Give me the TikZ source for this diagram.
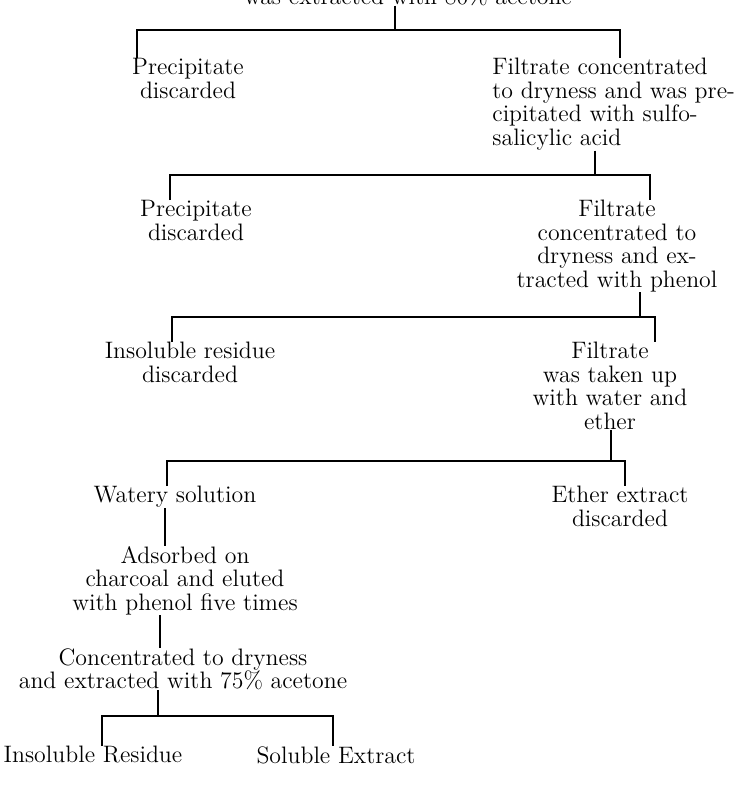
\documentclass[tikz,border=0pt]{standalone}
\usepackage{tikz}

\begin{document}
\begin{tikzpicture}[x=0.5pt,y=-0.5pt,
  txt/.style={inner sep=0pt,align=center,font=\fontsize{11.9}{11.75}\selectfont},
  ltxt/.style={txt,align=left},
  br/.style={line width=0.7pt}]
\useasboundingbox (0,0) rectangle (741,804);
\node[txt,anchor=base] (top) at (408,4) {was extracted with 80\% acetone};
\node[txt,anchor=north] (p1) at (188,58) {Precipitate\\discarded};
\node[ltxt,anchor=north west] (f1) at (492,58) {Filtrate concentrated\\to dryness and was pre-\\cipitated with sulfo-\\salicylic acid};
\node[txt,anchor=north] (p2) at (196,200) {Precipitate\\discarded};
\node[txt,anchor=north] (f2) at (617,200) {Filtrate\\concentrated to\\dryness and ex-\\tracted with phenol};
\node[txt,anchor=north] (r3) at (190,342) {Insoluble residue\\discarded};
\node[txt,anchor=north] (f3) at (610,342) {Filtrate\\was taken up\\with water and\\ether};
\node[txt,anchor=north] (ws) at (175,486) {Watery solution};
\node[txt,anchor=north] (ee) at (620,486) {Ether extract\\discarded};
\node[txt,anchor=north] (ad) at (185,546) {Adsorbed on\\charcoal and eluted\\with phenol five times};
\node[txt,anchor=north] (cd) at (183,648) {Concentrated to dryness\\and extracted with 75\% acetone};
\node[txt,anchor=north] (ir) at (93,746) {Insoluble Residue};
\node[txt,anchor=north] (se) at (336,746) {Soluble Extract};
\coordinate (b1t) at (395,30); \coordinate (b1l) at (137,30); \coordinate (b1r) at (620,30);
\coordinate (b2t) at (595,175); \coordinate (b2l) at (170,175); \coordinate (b2r) at (650,175);
\coordinate (b3t) at (640,317); \coordinate (b3l) at (172,317); \coordinate (b3r) at (655,317);
\coordinate (b4t) at (611,461); \coordinate (b4l) at (167,461); \coordinate (b4r) at (625,461);
\coordinate (w1) at (165,0); \coordinate (w2) at (160,0);
\coordinate (b5t) at (158,716); \coordinate (b5l) at (102,716); \coordinate (b5r) at (333,716);
\draw[br] (top.south -| b1t) -- (b1t);
\draw[br] (b1l |- p1.north) -- (b1l) -- (b1r) -- (b1r |- f1.north);
\draw[br] (f1.south -| b2t) -- (b2t);
\draw[br] (b2l |- p2.north) -- (b2l) -- (b2r) -- (b2r |- f2.north);
\draw[br] (f2.south -| b3t) -- (b3t);
\draw[br] (b3l |- r3.north) -- (b3l) -- (b3r) -- (b3r |- f3.north);
\draw[br] (f3.south -| b4t) -- (b4t);
\draw[br] (b4l |- ws.north) -- (b4l) -- (b4r) -- (b4r |- ee.north);
\draw[br] (ws.south -| w1) -- (ad.north -| w1);
\draw[br] (ad.south -| w2) -- (cd.north -| w2);
\draw[br] (cd.south -| b5t) -- (b5t);
\draw[br] (b5l |- ir.north) -- (b5l) -- (b5r) -- (b5r |- se.north);
\end{tikzpicture}
\end{document}
